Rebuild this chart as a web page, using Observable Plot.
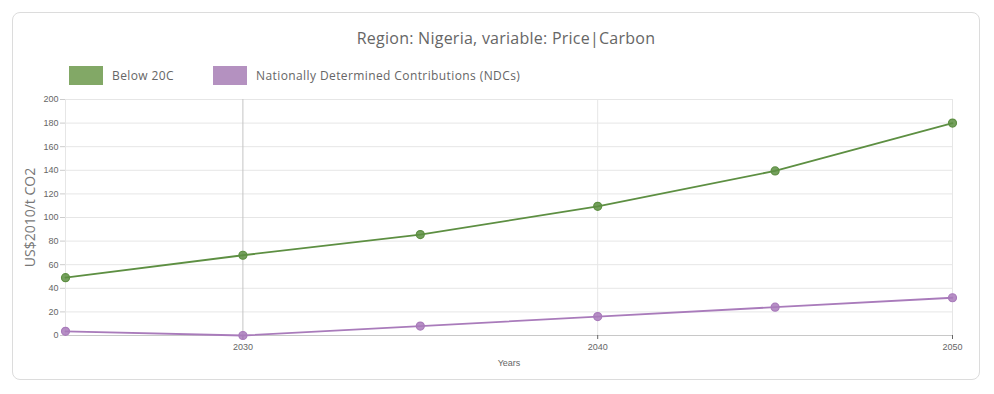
<!DOCTYPE html>
<html><head><meta charset="utf-8">
<script src="https://cdn.jsdelivr.net/npm/d3@7"></script>
<script src="https://cdn.jsdelivr.net/npm/@observablehq/plot@0.6"></script>
<style>
body{margin:0;background:#fff;}
#wrap{position:relative;width:994px;height:394px;overflow:hidden;font-family:"Open Sans",sans-serif;}
#card{position:absolute;left:12px;top:12px;width:968px;height:368px;border:1px solid #dcdcdc;border-radius:8px;box-sizing:border-box;}
#title{position:absolute;left:0;width:1012px;top:27px;text-align:center;font-size:16px;color:#666;letter-spacing:0.25px;}
#legend{position:absolute;left:69px;top:66px;display:flex;align-items:center;font-size:12px;color:#666;letter-spacing:0.4px;}
.sw{width:34px;height:19px;display:inline-block;margin-right:9px;}
#chart{position:absolute;left:0;top:0;}
</style></head>
<body>
<div id="wrap">
<div id="card"></div>
<div id="title">Region: Nigeria, variable: Price|Carbon</div>
<div id="legend"></div>
<div id="chart"></div>
</div>
<script>
const years = [2025, 2030, 2035, 2040, 2045, 2050];
const below20C = [49, 68, 85.5, 109.5, 139.5, 180];
const ndcs = [3.5, 0, 8, 16, 24, 32];
const seriesNames = ["Below 20C", "Nationally Determined Contributions (NDCs)"];
const lineColors = ["#5d8f42", "#a97bbb"];
const swatchColors = ["#82a866", "#b491c0"];
const yTicks = [0, 20, 40, 60, 80, 100, 120, 140, 160, 180, 200];
const xTicks = [2030, 2040, 2050];

const data = [];
years.forEach((y, i) => {
  data.push({year: y, value: below20C[i], s: seriesNames[0]});
  data.push({year: y, value: ndcs[i], s: seriesNames[1]});
});

const leg = document.getElementById("legend");
seriesNames.forEach((n, i) => {
  const item = document.createElement("span");
  item.style.display = "flex"; item.style.alignItems = "center";
  item.style.marginRight = i === 0 ? "39px" : "0";
  item.innerHTML = `<span class="sw" style="background:${swatchColors[i]}"></span><span>${n}</span>`;
  leg.appendChild(item);
});

const plot = Plot.plot({
  width: 994, height: 394,
  marginLeft: 65, marginRight: 42, marginTop: 99, marginBottom: 59,
  style: {fontFamily: "'Liberation Sans', Arial, sans-serif", fontSize: "9px", color: "#666", background: "transparent"},
  x: {domain: [2025, 2050], ticks: xTicks, tickFormat: d => String(d), label: null},
  y: {domain: [0, 200], ticks: yTicks, label: null},
  color: {domain: seriesNames, range: lineColors},
  marks: [
    Plot.gridY(yTicks, {stroke: "#e6e6e6", strokeOpacity: 1}),
    Plot.gridX([2025, 2040, 2050], {stroke: "#e6e6e6", strokeOpacity: 1}),
    Plot.ruleX([2030], {stroke: "#c4c4c4"}),
    Plot.ruleY([0], {stroke: "#c8c8c8"}),
    Plot.axisY({ticks: yTicks, tickSize: 5, tickPadding: 2, stroke: "#ccc", label: null}),
    Plot.axisX({ticks: xTicks, tickSize: 4, tickPadding: 4, tickFormat: d => String(d), label: null}),
    Plot.line(data, {x: "year", y: "value", stroke: "s", strokeWidth: 1.8}),
    Plot.dot(data, {x: "year", y: "value", fill: "s", stroke: "s", r: 4, fillOpacity: 0.85, strokeWidth: 1.2}),
    Plot.text(["Years"], {frameAnchor: "bottom", dy: 30, fontSize: 9, fill: "#666"}),
    Plot.text(["US$2010/t CO2"], {frameAnchor: "left", textAnchor: "middle", dx: -35, rotate: -90, fontSize: 14, fill: "#777", fontFamily: "'Open Sans', sans-serif", letterSpacing: "0.3px"})
  ]
});
document.getElementById("chart").appendChild(plot);
</script>
</body></html>
